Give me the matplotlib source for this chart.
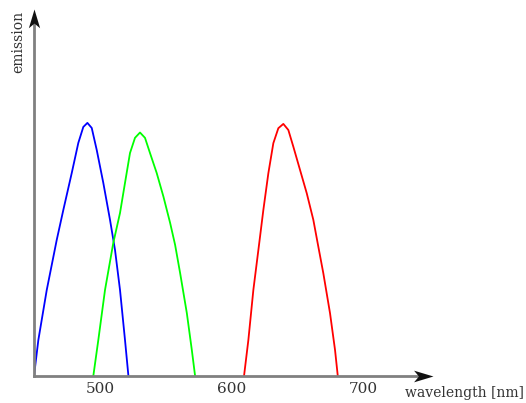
import matplotlib
matplotlib.use("Agg")
import matplotlib.pyplot as plt
from matplotlib.path import Path

# emission spectra (wavelength nm, relative emission)
blue_x = [449.4, 452.7, 459.1, 466.7, 471.7, 478.1, 483.1, 486.9, 490.0, 493.3, 497.1,
          502.1, 507.2, 511.0, 514.8, 518.6, 521.2]
blue_y = [0, 0.142, 0.340, 0.538, 0.656, 0.802, 0.921, 0.984, 1.0, 0.980, 0.893,
          0.763, 0.617, 0.498, 0.340, 0.142, 0]

green_x = [494.5, 498.3, 503.4, 509.7, 514.8, 518.6, 522.4, 526.2, 530.0, 533.8, 537.6,
           542.7, 547.8, 552.9, 556.7, 560.5, 565.6, 569.4, 571.9]
green_y = [0, 0.142, 0.340, 0.526, 0.644, 0.763, 0.881, 0.941, 0.962, 0.941, 0.881,
           0.802, 0.709, 0.605, 0.518, 0.407, 0.249, 0.103, 0]

red_x = [609.1, 612.4, 616.2, 620.5, 623.8, 627.6, 631.4, 635.2, 639.0, 642.8, 646.6,
         651.7, 656.8, 661.8, 665.6, 669.4, 674.5, 678.3, 680.4]
red_y = [0, 0.142, 0.340, 0.518, 0.656, 0.801, 0.920, 0.979, 0.996, 0.972, 0.906,
         0.814, 0.722, 0.617, 0.511, 0.406, 0.248, 0.103, 0]

ticks = [500, 600, 700]
tick_labels = ["500", "600", "700"]

plt.rcParams['font.family'] = ['DejaVu Serif']

fig = plt.figure(figsize=(5.26, 4.03), dpi=100)
W, H = 526, 403
ax = fig.add_axes([34 / W, (H - 376) / H, (433 - 34) / W, (376 - 9) / H])
ax.set_xlim(449.4, 752.8)
ax.set_ylim(0, 1.45)

for x, y, c in [(blue_x, blue_y, "#0000ff"), (green_x, green_y, "#00ff00"), (red_x, red_y, "#ff0000")]:
    ax.plot(x, y, color=c, lw=1.3, solid_joinstyle="round", solid_capstyle="round")

for s in ax.spines.values():
    s.set_visible(False)

# axes shafts
ax.plot([0, 0.97], [0, 0], transform=ax.transAxes, color="#808080", lw=2, clip_on=False, zorder=3)
ax.plot([0, 0], [0, 0.97], transform=ax.transAxes, color="#808080", lw=2, clip_on=False, zorder=3)

# stealth arrowheads, tip at the marker origin
right_head = Path([(0, 0), (-2, 0.6), (-1.5, 0), (-2, -0.6), (0, 0)],
                  [Path.MOVETO, Path.LINETO, Path.LINETO, Path.LINETO, Path.CLOSEPOLY])
up_head = Path([(0, 0), (0.6, -2), (0, -1.5), (-0.6, -2), (0, 0)],
               [Path.MOVETO, Path.LINETO, Path.LINETO, Path.LINETO, Path.CLOSEPOLY])
ax.plot([1.0], [0], transform=ax.transAxes, marker=right_head, ms=28, color="#111111",
        mew=0, clip_on=False, zorder=4)
ax.plot([0], [1.0], transform=ax.transAxes, marker=up_head, ms=27, color="#111111",
        mew=0, clip_on=False, zorder=4)

ax.set_xticks(ticks)
ax.set_xticklabels(tick_labels, fontsize=11, color="#333333")
ax.tick_params(axis="x", length=0, pad=4)
ax.set_yticks([])

fig.text(405 / W, 1 - 393 / H, "wavelength [nm]", ha="left", va="center", fontsize=10, color="#333333")
fig.text(18 / W, 1 - 42 / H, "emission", ha="center", va="center", rotation=90, fontsize=10, color="#333333")

fig.savefig("out.png", dpi=100)
